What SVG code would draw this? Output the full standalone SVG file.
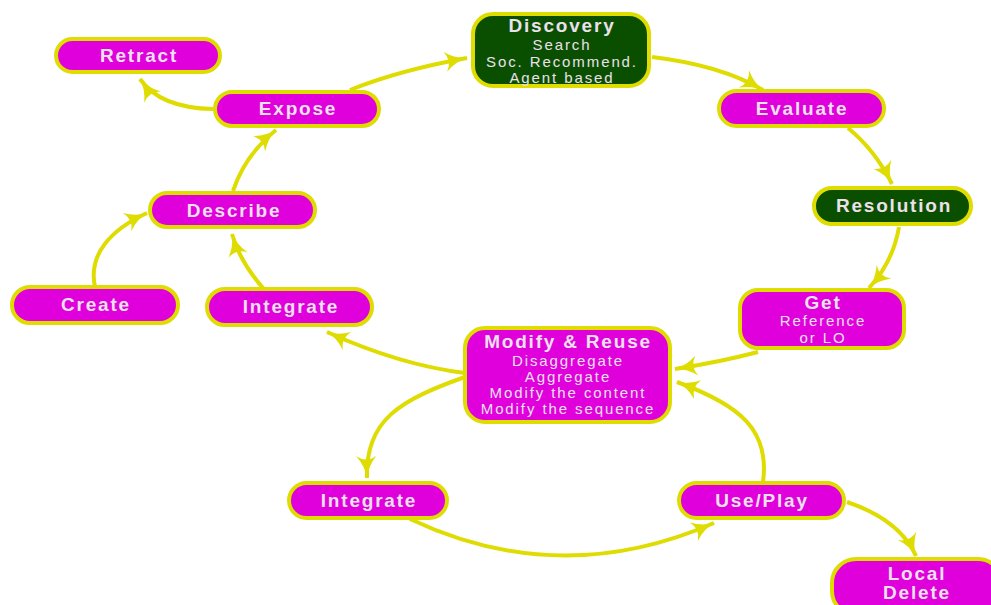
<svg xmlns="http://www.w3.org/2000/svg" width="991" height="605" viewBox="0 0 991 605">
<style>
.n{fill:#e000dc;stroke:#dedc00;stroke-width:4}
.g{fill:#0a4f00;stroke:#dedc00;stroke-width:4}
.t{font-family:"Liberation Sans",Arial,sans-serif;font-weight:bold;font-size:19px;fill:#ebe0ec;text-anchor:middle;letter-spacing:1.8px}
.s{font-family:"Liberation Sans",Arial,sans-serif;font-size:15px;fill:#ebe0ec;text-anchor:middle;letter-spacing:1.9px}
.c{fill:none;stroke:#dedc00;stroke-width:4;marker-end:url(#ah)}
</style>
<defs>
<marker id="ah" markerUnits="userSpaceOnUse" markerWidth="24" markerHeight="22" viewBox="0 0 24 22" refX="23" refY="11" orient="auto">
<path d="M24,11 Q12,12 1,21 Q8,11 1,1 Q12,10 24,11 Z" fill="#dedc00"/>
</marker>
</defs>
<rect width="991" height="605" fill="#ffffff"/>
<g id="connectors">
<path class="c" d="M350,90 Q400,70 467,58"/>
<path class="c" d="M652,57 Q720,65 763,90"/>
<path class="c" d="M848,128 Q875,150 892,184"/>
<path class="c" d="M899,227 Q893,262 869,288"/>
<path class="c" d="M758,352 Q720,362 675,369"/>
<path class="c" d="M763,482 C770,430 740,405 677,382"/>
<path class="c" d="M465,373 Q400,365 327,332"/>
<path class="c" d="M465,377 C400,400 365,420 367,478"/>
<path class="c" d="M410,519 Q560,590 714,523"/>
<path class="c" d="M847,502 Q900,520 916,556"/>
<path class="c" d="M263,288 Q240,262 232,234"/>
<path class="c" d="M95,287 C88,255 110,230 147,213"/>
<path class="c" d="M233,191 Q245,155 276,130"/>
<path class="c" d="M213,109 Q160,108 140,79"/>
</g>
<g id="retract"><rect class="n" x="56" y="39" width="164" height="33" rx="16.5"/><text class="t" x="139" y="62">Retract</text></g>
<g id="expose"><rect class="n" x="215" y="92" width="164" height="34" rx="17"/><text class="t" x="298" y="115">Expose</text></g>
<g id="discovery"><rect class="g" x="473" y="14" width="176" height="72" rx="20"/>
<text class="t" x="562" y="32">Discovery</text>
<text class="s" x="562" y="50">Search</text>
<text class="s" x="562" y="67">Soc. Recommend.</text>
<text class="s" x="562" y="83">Agent based</text></g>
<g id="evaluate"><rect class="n" x="719" y="91" width="165" height="35" rx="17.5"/><text class="t" x="802" y="115">Evaluate</text></g>
<g id="resolution"><rect class="g" x="814" y="188" width="157" height="36" rx="18"/><text class="t" x="894" y="212">Resolution</text></g>
<g id="get"><rect class="n" x="740" y="290" width="164" height="58" rx="18"/>
<text class="t" x="823" y="309">Get</text>
<text class="s" x="823" y="326">Reference</text>
<text class="s" x="823" y="343">or LO</text></g>
<g id="describe"><rect class="n" x="150" y="193" width="165" height="34" rx="17"/><text class="t" x="234" y="217">Describe</text></g>
<g id="create"><rect class="n" x="12" y="287" width="166" height="36" rx="18"/><text class="t" x="96" y="311">Create</text></g>
<g id="integrate1"><rect class="n" x="207" y="289" width="165" height="36" rx="18"/><text class="t" x="291" y="313">Integrate</text></g>
<g id="modify"><rect class="n" x="465" y="328" width="205" height="94" rx="20"/>
<text class="t" x="568" y="348">Modify &amp; Reuse</text>
<text class="s" x="568" y="366">Disaggregate</text>
<text class="s" x="568" y="382">Aggregate</text>
<text class="s" x="568" y="398">Modify the content</text>
<text class="s" x="568" y="414">Modify the sequence</text></g>
<g id="integrate2"><rect class="n" x="289" y="483" width="158" height="35" rx="17.5"/><text class="t" x="369" y="507">Integrate</text></g>
<g id="useplay"><rect class="n" x="679" y="483" width="165" height="35" rx="17.5"/><text class="t" x="762" y="507">Use/Play</text></g>
<g id="localdelete"><rect class="n" x="832" y="559" width="170" height="56" rx="24"/>
<text class="t" x="917" y="580">Local</text>
<text class="t" x="917" y="599">Delete</text></g>
</svg>
